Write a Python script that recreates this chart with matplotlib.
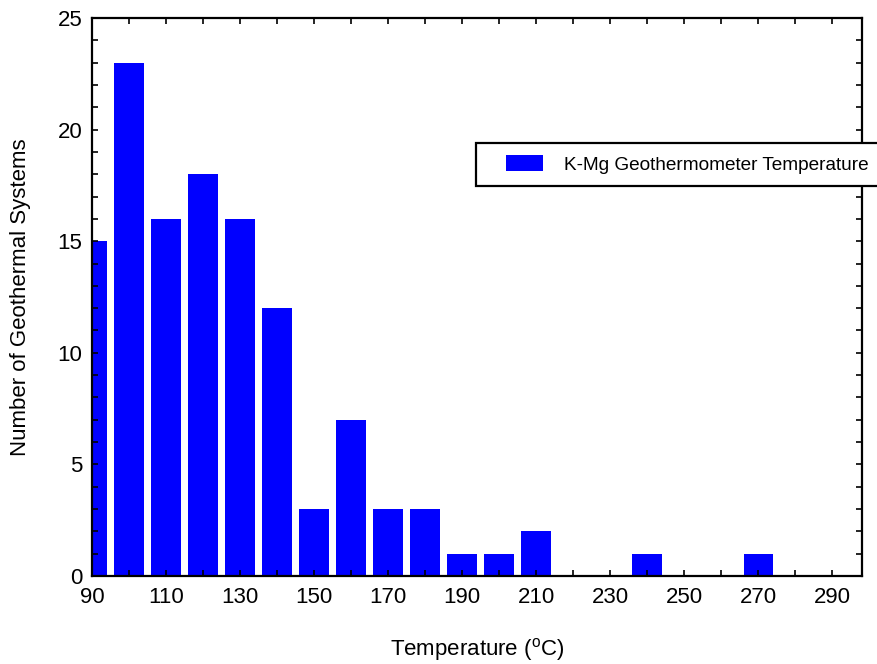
import matplotlib
matplotlib.use("Agg")
import matplotlib.pyplot as plt
from matplotlib.patches import Rectangle
from matplotlib.legend_handler import HandlerPatch
from matplotlib.ticker import MultipleLocator

# ── Data ─────────────────────────────────────────────────────────────────────
temps = [90, 100, 110, 120, 130, 140, 150, 160, 170, 180, 190, 200, 210,
         220, 230, 240, 250, 260, 270, 280, 290]
counts = [15, 23, 16, 18, 16, 12, 3, 7, 3, 3, 1, 1, 2,
          0, 0, 1, 0, 0, 1, 0, 0]
series_label = "K-Mg Geothermometer Temperature"

# ── Style ────────────────────────────────────────────────────────────────────
plt.rcParams.update({
    "font.family": ["Liberation Sans", "DejaVu Sans"],
    "mathtext.fontset": "custom",
    "mathtext.rm": "Liberation Sans",
    "mathtext.it": "Liberation Sans",
    "axes.linewidth": 1.6,
})

LEG_FS = 13.7


def shifted_patch(legend, orig_handle, xdescent, ydescent, width, height, fontsize):
    # leave some blank room left of the swatch, like the original legend
    off = 0.95 * fontsize
    return Rectangle((-xdescent + off, -ydescent), width - off, height)


fig = plt.figure(figsize=(8.77, 6.64), dpi=100)
ax = fig.add_axes([92 / 877, 1 - 576 / 664, (862 - 92) / 877, (576 - 18) / 664])

bars = ax.bar(temps, counts, width=8, color="#0000ff", edgecolor="none",
              label=series_label)

ax.set_xlim(90, 298)
ax.set_ylim(0, 25)
ax.xaxis.set_major_locator(MultipleLocator(20, offset=10))
ax.xaxis.set_minor_locator(MultipleLocator(10))
ax.yaxis.set_major_locator(MultipleLocator(5))
ax.yaxis.set_minor_locator(MultipleLocator(1))
ax.tick_params(which="both", direction="in", top=True, right=True,
               length=4, width=1.2, color="black")
ax.tick_params(which="major", labelsize=16)
ax.tick_params(axis="x", which="major", pad=8)
ax.tick_params(axis="y", which="major", pad=7)

ax.set_xlabel(r"Temperature ($^{\rm o}$C)", fontsize=16, labelpad=20)
ax.set_ylabel("Number of Geothermal Systems", fontsize=16, labelpad=19)

leg = fig.legend(handles=[bars.patches[0]], labels=[series_label],
                 loc="upper left", bbox_to_anchor=(476 / 877, 1 - 143 / 664),
                 fontsize=LEG_FS, frameon=True, fancybox=False, edgecolor="black",
                 framealpha=1, borderpad=0.65, handlelength=2.85,
                 handleheight=0.9, handletextpad=1.15, borderaxespad=0,
                 handler_map={Rectangle: HandlerPatch(patch_func=shifted_patch)})
leg.get_frame().set_linewidth(1.6)

fig.savefig("out.png", dpi=100)
